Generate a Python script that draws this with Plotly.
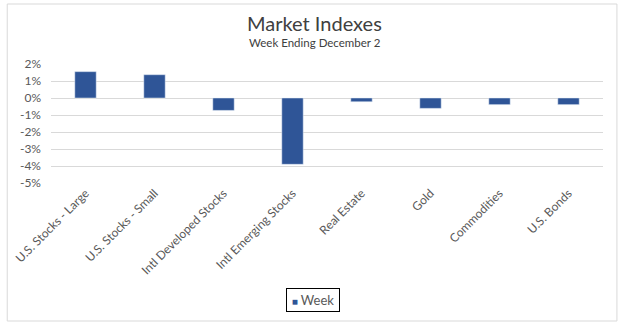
import plotly.graph_objects as go

categories = ["U.S. Stocks - Large", "U.S. Stocks - Small", "Intl Developed Stocks",
              "Intl Emerging Stocks", "Real Estate", "Gold", "Commodities", "U.S. Bonds"]
week = [1.55, 1.37, -0.73, -3.9, -0.22, -0.61, -0.39, -0.39]
tick_vals = [2, 1, 0, -1, -2, -3, -4, -5]
tick_text = ["2%", "1%", "0%", "-1%", "-2%", "-3%", "-4%", "-5%"]
series_name = "Week"
bar_color = "#2F5597"

W, H = 623, 326
L, R, T, B = 48, 20, 64, 143
pw, ph = W - L - R, H - T - B

def px_x(x):
    return (x - L) / pw

def px_y(y):
    return (H - B - y) / ph

fig = go.Figure()
fig.add_trace(go.Bar(x=categories, y=week, name=series_name, marker_color=bar_color,
                     width=0.31, showlegend=False))

font = "Lato, 'Open Sans', sans-serif"
fig.update_layout(
    width=W, height=H,
    margin=dict(l=L, r=R, t=T, b=B, pad=0),
    paper_bgcolor="white", plot_bgcolor="white",
    font=dict(family=font, size=12, color="#595959"),
    showlegend=False,
    xaxis=dict(tickangle=-45, showgrid=False, showline=False, ticks="",
               tickfont=dict(size=12, color="#595959")),
    yaxis=dict(range=[-5, 2], tickvals=tick_vals, ticktext=tick_text, showgrid=True,
               gridcolor="#d9d9d9", gridwidth=1, zeroline=True, zerolinecolor="#d9d9d9",
               zerolinewidth=1, showline=False, ticks="", ticklabelstandoff=9,
               tickfont=dict(size=12, color="#595959")),
    shapes=[dict(type="rect", xref="paper", yref="paper",
                 x0=px_x(4), x1=px_x(617), y0=px_y(321), y1=px_y(4),
                 line=dict(color="#d9d9d9", width=1), fillcolor="rgba(0,0,0,0)", layer="below")],
    annotations=[
        dict(text="Market Indexes", xref="paper", yref="paper", x=px_x(313), y=px_y(23),
             xanchor="center", yanchor="middle", showarrow=False,
             font=dict(family=font, size=20, color="#404040")),
        dict(text="Week Ending December 2", xref="paper", yref="paper", x=px_x(313), y=px_y(42),
             xanchor="center", yanchor="middle", showarrow=False,
             font=dict(family=font, size=11.5, color="#404040")),
        dict(text=f"<span style='color:{bar_color};font-size:10px'>■</span> {series_name}",
             xref="paper", yref="paper", x=px_x(311), y=px_y(300),
             xanchor="center", yanchor="middle", showarrow=False,
             bordercolor="#000000", borderwidth=1, borderpad=3, bgcolor="white",
             width=46, height=16,
             font=dict(family=font, size=13, color="#595959")),
    ],
)

fig.write_html("out.html")
